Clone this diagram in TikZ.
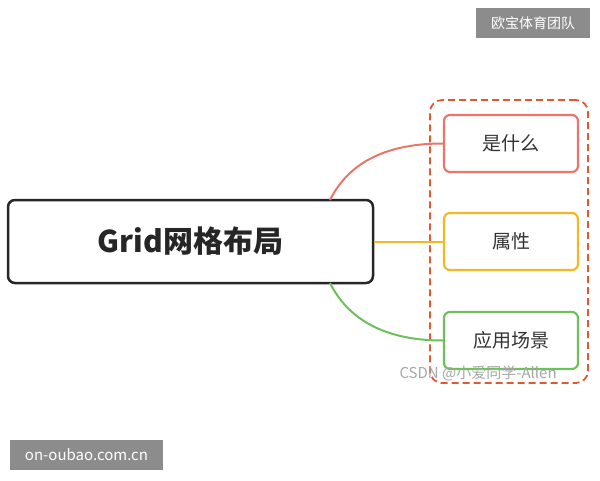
\documentclass[tikz,border=0pt]{standalone}
\usepackage{fontspec}
\setmainfont{Noto Sans CJK SC}
\begin{document}
\begin{tikzpicture}[x=1pt,y=-1pt,
  leaf/.style={draw,line width=2.2pt,rounded corners=6pt,minimum width=134pt,minimum height=57pt,font=\fontsize{19}{22}\selectfont,text=black!80,fill=white},
  wm/.style={fill=black!45,text=white,font=\fontsize{14}{16}\selectfont,inner sep=0pt}]
\useasboundingbox (0,0) rectangle (600,480);
\definecolor{cr}{HTML}{E8766B}\definecolor{cy}{HTML}{F2B925}\definecolor{cg}{HTML}{6DC05A}\definecolor{cd}{HTML}{DD5A33}
\node[draw=cd,dash pattern=on 7pt off 4pt,line width=1.8pt,rounded corners=12pt,minimum width=158pt,minimum height=283pt] (grp) at (509,241.5) {};
\node[leaf,draw=cr] (a) at (511,143.5) {是什么};
\node[leaf,draw=cy] (b) at (511,241.5) {属性};
\node[leaf,draw=cg] (c) at (511,340.5) {应用场景};
\node[draw=black!85,line width=2.5pt,rounded corners=7pt,minimum width=365pt,minimum height=83pt,fill=white,font=\fontsize{30}{34}\selectfont\bfseries,text=black!85] (m) at (190.5,241.5) {Grid网格布局};
\coordinate (mt) at (330,200); \coordinate (mb) at (330,283);
\draw[cr,line width=2pt] (mt) .. controls (350,160) and (390,143.5) .. (a.west);
\draw[cy,line width=2pt] (m.east) -- (b.west);
\draw[cg,line width=2pt] (mb) .. controls (350,323) and (390,340.5) .. (c.west);
\node[text=black!35,font=\fontsize{15}{17}\selectfont,anchor=west] (w) at (396,373) {CSDN @小爱同学-Allen};
\node[wm,minimum width=114pt,minimum height=30pt] (t) at (533,23) {欧宝体育团队};
\node[wm,minimum width=153pt,minimum height=30pt,font=\fontsize{15}{17}\selectfont] (u) at (86.5,455) {on-oubao.com.cn};
\end{tikzpicture}
\end{document}
